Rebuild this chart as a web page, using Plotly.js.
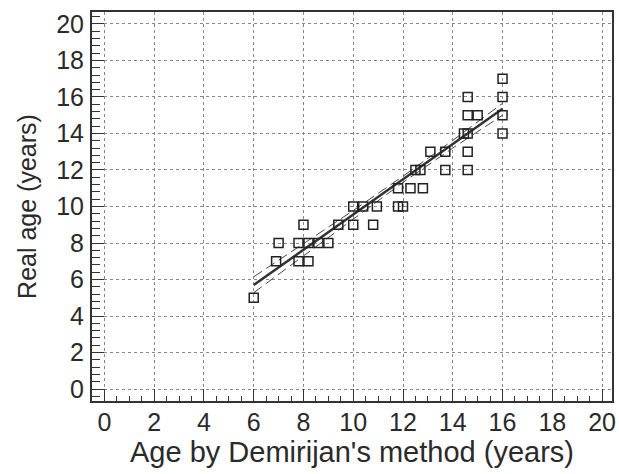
<!DOCTYPE html>
<html>
<head>
<meta charset="utf-8">
<script src="https://cdn.plot.ly/plotly-3.0.1.min.js"></script>
<style>html,body{margin:0;padding:0;background:#fff;}#chart{width:619px;height:474px;}</style>
</head>
<body>
<div id="chart"></div>
<script>
// Observed data: age by Demirijan's method (x) vs real age (y)
var demirjianAge = [6,
  6.9, 7.8, 8.2,
  7.0, 7.8, 8.2, 8.6, 9.0,
  8.0, 9.4, 10.0, 10.8,
  10.0, 10.4, 10.95, 11.8, 12.0,
  11.8, 12.3, 12.8,
  12.5, 12.7, 13.7, 14.6,
  13.1, 13.7, 14.6,
  14.45, 14.6, 16,
  14.6, 15.0, 16,
  14.6, 16,
  16];
var realAge = [5,
  7, 7, 7,
  8, 8, 8, 8, 8,
  9, 9, 9, 9,
  10, 10, 10, 10, 10,
  11, 11, 11,
  12, 12, 12, 12,
  13, 13, 13,
  14, 14, 14,
  15, 15, 15,
  16, 16,
  17];
// Regression line and confidence band
var fitX = [6, 16];
var fitY = [5.7, 15.35];
var bandX = [6, 8, 10, 12, 14, 16];
var bandUpper = [6.15, 7.95, 9.78, 11.66, 13.62, 15.65];
var bandLower = [5.28, 7.30, 9.34, 11.32, 13.20, 15.00];
var tickVals = [0, 2, 4, 6, 8, 10, 12, 14, 16, 18, 20];

var FONT = 'Liberation Sans, Arial, sans-serif';
var traces = [
  {x: bandX, y: bandUpper, type: 'scatter', mode: 'lines',
   line: {color: '#444', width: 1, dash: '10px,5px'}, hoverinfo: 'skip'},
  {x: bandX, y: bandLower, type: 'scatter', mode: 'lines',
   line: {color: '#444', width: 1, dash: '10px,5px'}, hoverinfo: 'skip'},
  {x: fitX, y: fitY, type: 'scatter', mode: 'lines',
   line: {color: '#333', width: 2.5}},
  {x: demirjianAge, y: realAge, type: 'scatter', mode: 'markers',
   marker: {symbol: 'square-open', size: 9, color: '#222', line: {width: 1.5, color: '#222'}}}
];
var axisCommon = {
  showline: true, linecolor: '#333', linewidth: 2, mirror: true,
  ticks: 'inside', tickcolor: '#333', tickwidth: 1, ticklen: 12,
  showgrid: true, gridcolor: '#888', gridwidth: 1, griddash: 'dot',
  zeroline: false, tickmode: 'array', tickvals: tickVals, ticktext: tickVals.map(String),
  tickfont: {family: FONT, size: 25, color: '#2a2a2a'}
};
var layout = {
  width: 619, height: 474,
  margin: {l: 92, r: 7, t: 12, b: 73},
  paper_bgcolor: '#fff', plot_bgcolor: '#fff',
  showlegend: false,
  font: {family: FONT, color: '#2a2a2a'},
  xaxis: Object.assign({}, axisCommon, {
    range: [-0.5, 20.4],
    ticklabelstandoff: -2,
    minor: {dtick: 0.5, tick0: 0, ticks: 'inside', ticklen: 5, tickcolor: '#333', showgrid: false},
    title: {text: "Age by Demirijan's method (years)", font: {family: FONT, size: 29, color: '#2a2a2a'}, standoff: 5}
  }),
  yaxis: Object.assign({}, axisCommon, {
    range: [-0.65, 20.65],
    ticklabelstandoff: 1,
    minor: {dtick: 0.4, tick0: 0, ticks: 'inside', ticklen: 8, tickcolor: '#333', showgrid: false},
    title: {text: 'Real age (years)', font: {family: FONT, size: 25, color: '#2a2a2a'}, standoff: 12}
  })
};
Plotly.newPlot('chart', traces, layout, {displayModeBar: false, staticPlot: true});
</script>
</body>
</html>
